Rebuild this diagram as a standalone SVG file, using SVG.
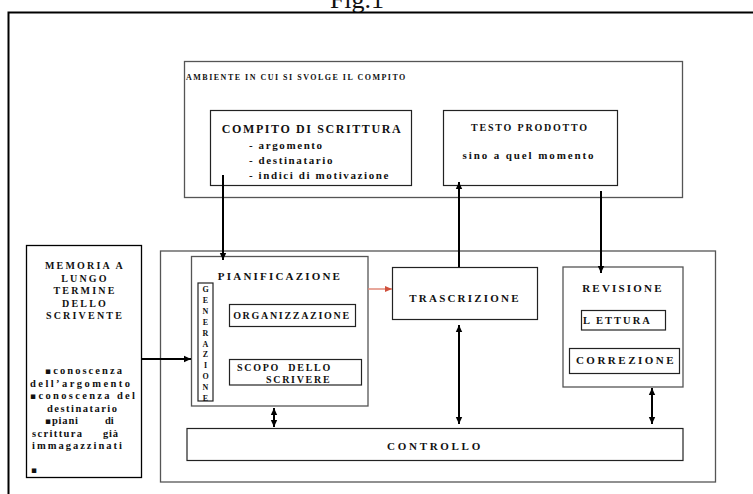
<svg xmlns="http://www.w3.org/2000/svg" width="753" height="494" viewBox="0 0 753 494">
<defs>
<marker id="ah" markerUnits="userSpaceOnUse" markerWidth="8" markerHeight="8" refX="7" refY="4" orient="auto-start-reverse"><path d="M0,0.8 L7,4 L0,7.2 z" fill="#000"/></marker>
<marker id="ahr" markerUnits="userSpaceOnUse" markerWidth="8" markerHeight="8" refX="7" refY="4" orient="auto"><path d="M0,1 L7,4 L0,7 z" fill="#d0503c"/></marker>
<style>
text{font-family:"Liberation Serif","Times New Roman",serif;font-weight:bold;fill:#111}
.box{fill:#fff;stroke:#222;stroke-width:1.2}
.gbox{fill:#fff;stroke:#555;stroke-width:1.3}
.h{font-size:11px;letter-spacing:2.2px;text-anchor:middle}
.s{font-size:10px;letter-spacing:1.7px;text-anchor:middle}
.m{font-size:10px;letter-spacing:2.2px;text-anchor:middle}
.l{font-size:10.5px}
.sq{font-family:"DejaVu Sans",sans-serif;font-size:9px}
.b{font-size:11px;letter-spacing:1.6px}
.con{fill:none;stroke:#000;stroke-width:2}
.gen{font-size:8px;text-anchor:middle}
</style>
</defs>
<rect x="0" y="0" width="753" height="494" fill="#fff"/>
<text x="357" y="8" style="font-weight:normal;font-size:26px;text-anchor:middle">Fig.1</text>
<rect x="8.5" y="12.5" width="760" height="500" fill="none" stroke="#000" stroke-width="2"/>

<g id="ambiente">
<rect class="gbox" x="184.5" y="61.5" width="498" height="136"/>
<text x="186" y="80" style="font-size:8px;letter-spacing:1.5px">AMBIENTE IN CUI SI SVOLGE IL COMPITO</text>
</g>
<g id="compito">
<rect class="box" x="210.5" y="110.5" width="201" height="75"/>
<text x="312" y="133" style="font-size:12px;letter-spacing:1.6px;text-anchor:middle">COMPITO DI SCRITTURA</text>
<text x="249" y="149" class="b">-  argomento</text>
<text x="249" y="164" class="b">- destinatario</text>
<text x="249" y="179" class="b">- indici di motivazione</text>
</g>
<g id="testo">
<rect class="box" x="443.5" y="110.5" width="174" height="75"/>
<text x="530" y="131" style="font-size:10px;letter-spacing:1.8px;text-anchor:middle">TESTO PRODOTTO</text>
<text x="529" y="159" style="font-size:11px;letter-spacing:1.9px;text-anchor:middle">sino a quel momento</text>
</g>
<g id="processi">
<rect class="gbox" x="160.5" y="251" width="555" height="231"/>
</g>
<g id="memoria">
<rect x="26.5" y="245.5" width="115" height="232" fill="#fff" stroke="#000" stroke-width="1.3"/>
<text x="85" y="269" class="m">MEMORIA A</text>
<text x="85" y="281.5" class="m">LUNGO</text>
<text x="85" y="294" class="m">TERMINE</text>
<text x="85" y="306.5" class="m">DELLO</text>
<text x="85" y="319" class="m">SCRIVENTE</text>
<text x="45" y="374" class="l" textLength="77" lengthAdjust="spacing"><tspan class="sq">▪</tspan>conoscenza</text>
<text x="30" y="386.5" class="l" textLength="100" lengthAdjust="spacing">dell’argomento</text>
<text x="30" y="399" class="l" textLength="105" lengthAdjust="spacing"><tspan class="sq">▪</tspan>conoscenza del</text>
<text x="47" y="411.5" class="l" textLength="70" lengthAdjust="spacing">destinatario</text>
<text x="45" y="424" class="l" textLength="33" lengthAdjust="spacing"><tspan class="sq">▪</tspan>piani</text>
<text x="105" y="424" class="l">di</text>
<text x="32" y="436.5" class="l" textLength="50" lengthAdjust="spacing">scrittura</text>
<text x="103" y="436.5" class="l" textLength="15" lengthAdjust="spacing">già</text>
<text x="32" y="449" class="l" textLength="90" lengthAdjust="spacing">immagazzinati</text>
<text x="31" y="473" class="l"><tspan class="sq">▪</tspan></text>
</g>
<g id="pianificazione">
<rect class="gbox" x="191.5" y="256.5" width="176.5" height="149.5"/>
<text x="280" y="280" class="h">PIANIFICAZIONE</text>
</g>
<g id="generazione">
<rect class="box" x="198" y="283" width="15" height="118"/>
<text class="gen" x="205.5" y="292">G</text>
<text class="gen" x="205.5" y="303">E</text>
<text class="gen" x="205.5" y="314">N</text>
<text class="gen" x="205.5" y="325">E</text>
<text class="gen" x="205.5" y="336">R</text>
<text class="gen" x="205.5" y="347">A</text>
<text class="gen" x="205.5" y="357">Z</text>
<text class="gen" x="205.5" y="368">I</text>
<text class="gen" x="205.5" y="379">O</text>
<text class="gen" x="205.5" y="390">N</text>
<text class="gen" x="205.5" y="401">E</text>
</g>
<g id="organizzazione">
<rect class="box" x="229.5" y="304.5" width="126" height="22"/>
<text x="292" y="319" class="s">ORGANIZZAZIONE</text>
</g>
<g id="scopo">
<rect class="box" x="229.5" y="359.5" width="132" height="25.5"/>
<text x="237" y="371" class="s" style="text-anchor:start" xml:space="preserve">SCOPO  DELLO</text>
<text x="266" y="383" class="s" style="text-anchor:start">SCRIVERE</text>
</g>
<g id="trascrizione">
<rect class="box" x="392.5" y="267.5" width="145" height="52"/>
<text x="465" y="302" class="h">TRASCRIZIONE</text>
</g>
<g id="revisione">
<rect class="gbox" x="563" y="267" width="120" height="120"/>
<text x="623" y="292" class="h">REVISIONE</text>
</g>
<g id="lettura">
<rect class="box" x="581.5" y="310.5" width="84" height="19.5"/>
<text x="583" y="324" class="s" style="text-anchor:start;font-size:10.5px;letter-spacing:2px" xml:space="preserve">L ETTURA</text>
</g>
<g id="correzione">
<rect class="box" x="569.5" y="348.5" width="110" height="25"/>
<text x="626" y="364" class="h" style="letter-spacing:2.5px">CORREZIONE</text>
</g>
<g id="controllo">
<rect class="box" x="187" y="428.5" width="496" height="32"/>
<text x="435" y="450" class="h" style="letter-spacing:2.7px">CONTROLLO</text>
</g>
<g id="connectors">
<path class="con" d="M223,175 L223,260" marker-end="url(#ah)"/>
<path class="con" d="M459,267 L459,182" marker-end="url(#ah)"/>
<path class="con" d="M601,191 L601,273" marker-end="url(#ah)"/>
<path class="con" d="M142,359 L191,359" marker-end="url(#ah)"/>
<path d="M368,289 L392,289" fill="none" stroke="#e08a7a" stroke-width="1.5" marker-end="url(#ahr)"/>
<path class="con" d="M274,408 L274,427" marker-start="url(#ah)" marker-end="url(#ah)"/>
<path class="con" d="M459,325 L459,424" marker-start="url(#ah)" marker-end="url(#ah)"/>
<path class="con" d="M652,388 L652,424" marker-start="url(#ah)" marker-end="url(#ah)"/>
</g>
</svg>
